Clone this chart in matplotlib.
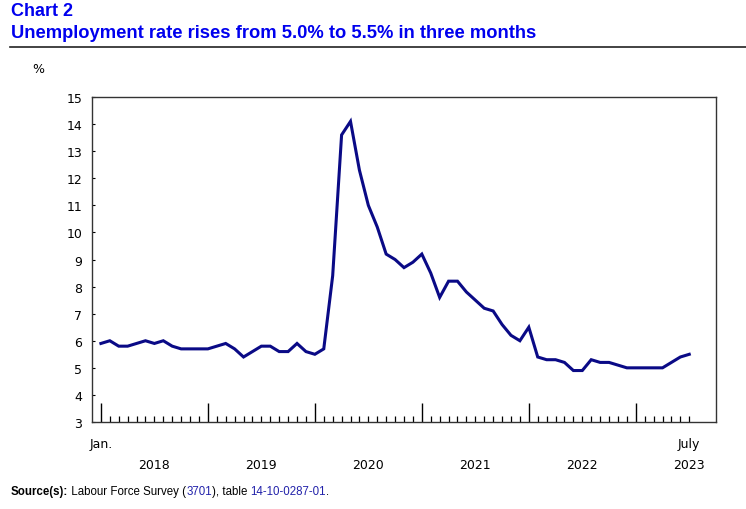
import matplotlib
matplotlib.use("Agg")
import matplotlib.pyplot as plt
from matplotlib.lines import Line2D
import numpy as np

# Monthly unemployment rate, January 2018 to July 2023 (%)
years = [2018, 2019, 2020, 2021, 2022, 2023]
rate = [
    5.9, 6.0, 5.8, 5.8, 5.9, 6.0, 5.9, 6.0, 5.8, 5.7, 5.7, 5.7,   # 2018
    5.7, 5.8, 5.9, 5.7, 5.4, 5.6, 5.8, 5.8, 5.6, 5.6, 5.9, 5.6,   # 2019
    5.5, 5.7, 8.4, 13.6, 14.1, 12.3, 11.0, 10.2, 9.2, 9.0, 8.7, 8.9,  # 2020
    9.2, 8.5, 7.6, 8.2, 8.2, 7.8, 7.5, 7.2, 7.1, 6.6, 6.2, 6.0,   # 2021
    6.5, 5.4, 5.3, 5.3, 5.2, 4.9, 4.9, 5.3, 5.2, 5.2, 5.1, 5.0,   # 2022
    5.0, 5.0, 5.0, 5.0, 5.2, 5.4, 5.5,                            # 2023
]
y_ticks = list(range(3, 16))

blue = '#0000ee'
navy = '#0a0a86'

fig = plt.figure(figsize=(7.46, 5.10), dpi=100)
ax = fig.add_axes([0.1233, 0.1706, 0.8365, 0.6372])

x = np.arange(len(rate))
ax.plot(x, rate, color=navy, lw=2.2, solid_joinstyle='miter')

ax.set_xlim(-1, 69)
ax.set_ylim(3, 15)
ax.set_yticks(y_ticks)
ax.tick_params(axis='y', direction='in', length=2.5, labelsize=9, pad=7, width=0.8)

# major ticks at each January, minor ticks for every month
jan_idx = [12 * i for i in range(len(years))]
ax.set_xticks(jan_idx)
ax.set_xticks(x, minor=True)
ax.set_xticklabels([])
ax.tick_params(axis='x', which='major', direction='in', length=14, width=1.0)
ax.tick_params(axis='x', which='minor', direction='in', length=4.5, width=0.9)

for s in ax.spines.values():
    s.set_color('#333333')
    s.set_linewidth(1.0)

# month / year labels below the axis
ax.text(0, -0.045, 'Jan.', transform=ax.get_xaxis_transform(), ha='center', va='top', fontsize=9)
ax.text(len(rate) - 1, -0.045, 'July', transform=ax.get_xaxis_transform(), ha='center', va='top', fontsize=9)
for i, yr in enumerate(years):
    xpos = 12 * i + 6
    if yr == years[-1]:
        xpos = len(rate) - 1
    ax.text(xpos, -0.11, str(yr), transform=ax.get_xaxis_transform(), ha='center', va='top', fontsize=9)

fig.text(32 / 746, 1 - 70 / 510, '%', fontsize=9, ha='left', va='center')

# titles
fig.text(11 / 746, 1 - 12 / 510, 'Chart 2', fontsize=13, fontweight='bold', color=blue,
         family='Liberation Sans', va='center')
fig.text(11 / 746, 1 - 33 / 510, 'Unemployment rate rises from 5.0% to 5.5% in three months', fontsize=13.2,
         fontweight='bold', color=blue, family='Liberation Sans', va='center')
fig.add_artist(Line2D([10 / 746, 1.0], [1 - 48 / 510] * 2, color='#222222', lw=1.2))

# source line, pieced together so the links can be blue
t = fig.text(11 / 746, 1 - 492 / 510, 'Source(s):', fontsize=8.3, fontweight='bold',
             family='Liberation Sans', va='center')
pieces = [(' Labour Force Survey (', 'black'), ('3701', '#2222aa'), ('), table ', 'black'),
          ('14-10-0287-01', '#2222aa'), ('.', 'black')]
for txt, col in pieces:
    t = plt.annotate(txt, xy=(1, 0), xycoords=t, va='bottom', ha='left', fontsize=8.3,
                     color=col, family='Liberation Sans', annotation_clip=False)

fig.savefig('out.png', dpi=100)
